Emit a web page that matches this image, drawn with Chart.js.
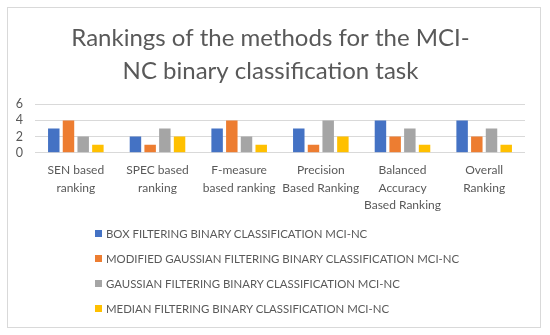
<!DOCTYPE html>
<html>
<head>
<meta charset="utf-8">
<script src="https://cdn.jsdelivr.net/npm/chart.js@4"></script>
<style>
  html, body { margin: 0; padding: 0; background: #fff; }
  #frame { position: absolute; left: 7px; top: 7px; width: 534px; height: 321px; border: 1px solid #d9d9d9; box-sizing: border-box; }
  #wrap { position: absolute; left: 7px; top: 7px; width: 536px; height: 216px; }
  #legend { position: absolute; left: 95px; top: 221px; font-family: Lato, "Open Sans", sans-serif; font-size: 11.4px; color: #595959; }
  .item { height: 25px; display: flex; align-items: center; white-space: nowrap; }
  .sw { width: 7px; height: 7px; margin-right: 4px; display: inline-block; }
</style>
</head>
<body>
<div id="frame"></div>
<div id="wrap"><canvas id="c"></canvas></div>
<div id="legend"></div>
<script>
const categories = [
  ['SEN based', 'ranking'],
  ['SPEC based', 'ranking'],
  ['F-measure', 'based ranking'],
  ['Precision', 'Based Ranking'],
  ['Balanced', 'Accuracy', 'Based Ranking'],
  ['Overall', 'Ranking']
];
const seriesNames = [
  'BOX FILTERING BINARY CLASSIFICATION MCI-NC',
  'MODIFIED GAUSSIAN FILTERING BINARY CLASSIFICATION MCI-NC',
  'GAUSSIAN FILTERING BINARY CLASSIFICATION MCI-NC',
  'MEDIAN FILTERING BINARY CLASSIFICATION MCI-NC'
];
const boxFiltering = [3, 2, 3, 3, 4, 4];
const modifiedGaussian = [4, 1, 4, 1, 2, 2];
const gaussianFiltering = [2, 3, 2, 4, 3, 3];
const medianFiltering = [1, 2, 1, 2, 1, 1];
const titleLines = ['Rankings of the methods for the MCI-', 'NC binary classification task'];
const colors = ['#4472C4', '#ED7D31', '#A5A5A5', '#FFC000'];

const seriesValues = [boxFiltering, modifiedGaussian, gaussianFiltering, medianFiltering];
const textColor = '#595959';
const fontFam = 'Lato, "Open Sans", sans-serif';

const chart = new Chart(document.getElementById('c'), {
  type: 'bar',
  data: {
    labels: categories,
    datasets: seriesNames.map((n, i) => ({
      label: n,
      data: seriesValues[i],
      backgroundColor: colors[i],
      barPercentage: 0.78,
      categoryPercentage: 0.72
    }))
  },
  options: {
    responsive: true,
    maintainAspectRatio: false,
    animation: false,
    layout: { padding: { left: 9, right: 18, top: 0, bottom: 0 } },
    plugins: {
      legend: { display: false },
      tooltip: { enabled: false },
      title: {
        display: true,
        text: titleLines,
        color: textColor,
        font: { family: fontFam, size: 24, weight: 'normal', lineHeight: 1.4 },
        padding: { top: 14, bottom: 16 }
      }
    },
    scales: {
      x: {
        grid: { display: false, drawTicks: false },
        border: { display: false },
        ticks: { color: textColor, font: { family: fontFam, size: 12, lineHeight: 1.45 }, maxRotation: 0, autoSkip: false, padding: 9 },
        afterFit: s => { s.paddingLeft = 0; s.paddingRight = 0; }
      },
      y: {
        min: 0, max: 6,
        ticks: { stepSize: 2, autoSkip: false, color: textColor, font: { family: fontFam, size: 12.5 }, padding: 12 },
        grid: { color: '#d9d9d9', drawTicks: false },
        border: { display: false },
        afterFit: s => { s.width = 19; }
      }
    }
  }
});

const leg = document.getElementById('legend');
chart.data.datasets.forEach(ds => {
  const row = document.createElement('div');
  row.className = 'item';
  const sw = document.createElement('span');
  sw.className = 'sw';
  sw.style.background = ds.backgroundColor;
  const t = document.createElement('span');
  t.textContent = ds.label;
  row.appendChild(sw);
  row.appendChild(t);
  leg.appendChild(row);
});
</script>
</body>
</html>
